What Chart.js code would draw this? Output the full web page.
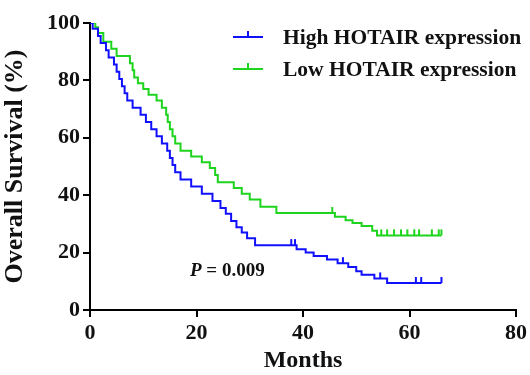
<!DOCTYPE html>
<html>
<head>
<meta charset="utf-8">
<script src="https://cdn.jsdelivr.net/npm/chart.js@4.4.1/dist/chart.umd.min.js"></script>
<style>
html,body{margin:0;padding:0;background:#fff;}
#c{display:block;}
</style>
</head>
<body>
<canvas id="c" width="530" height="375"></canvas>
<script>
// Kaplan-Meier step data (month, survival % after event)
const highMonths = [0, 0.5, 1.5, 2, 3, 3.5, 4.5, 5, 5.5, 6, 6.5, 7, 8, 9.5, 10.5, 11.5, 12.5, 13.5, 14.5, 15, 15.5, 16, 17, 19, 21, 23, 24.5, 25.5, 26.5, 27.5, 28.5, 29.5, 31, 38.8, 40.5, 42, 44.5, 46.5, 48.5, 50, 51, 53.4, 55.8, 66];
const highSurvival = [100, 98, 95.5, 93, 90.5, 88, 85.5, 83, 80.5, 78, 75.5, 73, 70.5, 68, 65.5, 63, 60.5, 58, 55.5, 53, 50.5, 48, 45.5, 43, 40.5, 38, 35.5, 33.5, 31, 28.8, 27, 25, 22.6, 21.2, 20, 18.8, 17.6, 16.3, 15, 13.5, 12.3, 11, 9.4, 9.4];
const highCensored = [37.8, 38.5, 47.5, 54.5, 61.2, 62.2, 66];

const lowMonths = [0, 1, 1.5, 2.5, 4, 5, 7.5, 8, 8.3, 9, 10, 11, 12.5, 13.5, 14.3, 14.6, 15, 15.5, 16, 17, 19, 21, 22.5, 23.5, 24, 27, 28.5, 30, 32, 35, 46, 48, 49.3, 51, 53, 53.9, 66];
const lowSurvival = [100, 98.5, 96.5, 93.5, 91, 88.5, 86, 83.5, 81, 79, 77, 75, 73, 70.5, 68, 65.5, 63, 60.5, 58, 55.5, 53.5, 51.5, 49.5, 47, 44.5, 42.5, 40.5, 38.5, 36, 33.8, 32.5, 31.3, 30.3, 29.3, 27.6, 26, 26];
const lowCensored = [45.5, 54.7, 55.8, 57.1, 58.4, 59.6, 60.9, 61.8, 64.2, 65.5, 66];

const xTicks = [0, 20, 40, 60, 80];
const yTicks = [0, 20, 40, 60, 80, 100];
const seriesNames = ['High HOTAIR expression', 'Low HOTAIR expression'];
const seriesColors = ['#1010ff', '#1ed41e'];
const pValueText = '= 0.009';

const FONT = "'Liberation Serif','Times New Roman',serif";

function toPoints(xs, ys){ return xs.map((x,i)=>({x:x, y:ys[i]})); }

function stepValue(data, t){
  let v = data[0].y;
  for (const p of data){ if (p.x <= t) v = p.y; else break; }
  return v;
}

const censorPlugin = {
  id: 'censor',
  afterDatasetsDraw(chart){
    const ctx = chart.ctx, xs = chart.scales.x, ys = chart.scales.y;
    chart.data.datasets.forEach(ds => {
      ctx.save();
      ctx.strokeStyle = ds.borderColor;
      ctx.lineWidth = 2;
      ds.censored.forEach(t => {
        const px = xs.getPixelForValue(t);
        const py = ys.getPixelForValue(stepValue(ds.data, t));
        ctx.beginPath();
        ctx.moveTo(px, py);
        ctx.lineTo(px, py - 6);
        ctx.stroke();
      });
      ctx.restore();
    });
  }
};

const legendPlugin = {
  id: 'kmLegend',
  afterDraw(chart){
    const ctx = chart.ctx;
    const rows = [37, 69];
    chart.data.datasets.forEach((ds, i) => {
      const y = rows[i];
      ctx.save();
      ctx.strokeStyle = ds.borderColor;
      ctx.lineWidth = 2;
      ctx.beginPath();
      ctx.moveTo(233, y); ctx.lineTo(263, y);
      ctx.moveTo(248, y); ctx.lineTo(248, y - 6);
      ctx.stroke();
      ctx.fillStyle = '#111';
      ctx.font = "bold 21.5px " + FONT;
      ctx.textBaseline = 'middle';
      ctx.textAlign = 'left';
      ctx.fillText(ds.label, 283, y + 1);
      ctx.restore();
    });
    // P value
    ctx.save();
    ctx.fillStyle = '#111';
    ctx.textBaseline = 'middle';
    ctx.font = "italic bold 19px " + FONT;
    ctx.fillText('P', 190, 271);
    const w = ctx.measureText('P').width;
    ctx.font = "bold 19px " + FONT;
    ctx.fillText(' ' + pValueText, 190 + w, 271);
    ctx.restore();
  }
};

new Chart(document.getElementById('c'), {
  type: 'line',
  data: {
    datasets: [
      { label: seriesNames[0], data: toPoints(highMonths, highSurvival), censored: highCensored,
        borderColor: seriesColors[0], borderWidth: 2, stepped: 'before', pointRadius: 0, fill: false },
      { label: seriesNames[1], data: toPoints(lowMonths, lowSurvival), censored: lowCensored,
        borderColor: seriesColors[1], borderWidth: 2, stepped: 'before', pointRadius: 0, fill: false }
    ]
  },
  options: {
    responsive: false,
    animation: false,
    devicePixelRatio: 1,
    layout: { padding: { top: 23, right: 13, left: 0, bottom: 0 } },
    plugins: { legend: { display: false }, tooltip: { enabled: false } },
    scales: {
      x: {
        type: 'linear', min: 0, max: 80,
        afterBuildTicks: s => { s.ticks = xTicks.map(v => ({ value: v })); },
        ticks: { color: '#111', padding: 3, font: { family: FONT, size: 22, weight: 'bold' } },
        grid: { display: true, drawOnChartArea: false, drawTicks: true, tickLength: 7, color: '#000', lineWidth: 2 },
        border: { display: true, color: '#000', width: 2 },
        title: { display: true, text: 'Months', color: '#111', padding: { top: 5, bottom: 0 },
                 font: { family: FONT, size: 24, weight: 'bold' } },
        afterFit: s => { s.height = 65; }
      },
      y: {
        type: 'linear', min: 0, max: 100,
        afterBuildTicks: s => { s.ticks = yTicks.map(v => ({ value: v })); },
        ticks: { color: '#111', padding: 3, font: { family: FONT, size: 22, weight: 'bold' } },
        grid: { display: true, drawOnChartArea: false, drawTicks: true, tickLength: 7, color: '#000', lineWidth: 2 },
        border: { display: true, color: '#000', width: 2 },
        title: { display: true, text: 'Overall Survival (%)', color: '#111', padding: { top: 0, bottom: 4 },
                 font: { family: FONT, size: 26, weight: 'bold' } },
        afterFit: s => { s.width = 90; }
      }
    }
  },
  plugins: [censorPlugin, legendPlugin]
});
</script>
</body>
</html>
